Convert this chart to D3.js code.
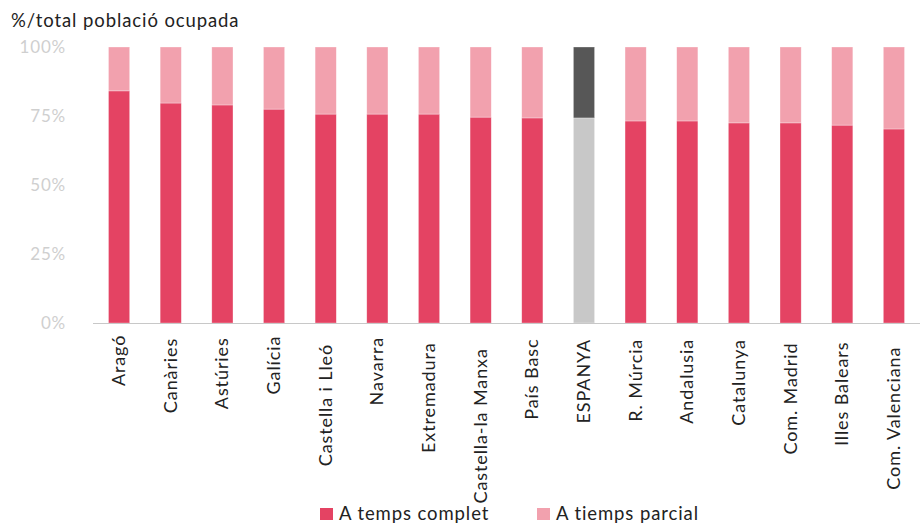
<!DOCTYPE html>
<html>
<head>
<meta charset="utf-8">
<script src="https://cdn.jsdelivr.net/npm/d3@7"></script>
<style>
  body { margin: 0; background: #fff; }
  svg { display: block; font-family: Lato, "Noto Sans", sans-serif; }
</style>
</head>
<body>
<svg id="chart" width="920" height="523"></svg>
<script>
// Regions, ordered as in the chart
const regions = ["Aragó", "Canàries", "Astúries", "Galícia", "Castella i Lleó", "Navarra",
  "Extremadura", "Castella-la Manxa", "País Basc", "ESPANYA", "R. Múrcia", "Andalusia",
  "Catalunya", "Com. Madrid", "Illes Balears", "Com. Valenciana"];
// Full-time share of employed population (%)
const fullTime = [84.1, 79.7, 79.0, 77.5, 75.7, 75.7, 75.7, 74.6, 74.3, 74.3, 73.2, 73.2, 72.5, 72.5, 71.7, 70.3];
const partTime = fullTime.map(v => 100 - v);
const yTicks = [0, 25, 50, 75, 100];
const seriesNames = ["A temps complet", "A tiemps parcial"];
const highlight = "ESPANYA";

const svg = d3.select("#chart");
const margin = { top: 47, right: 0, bottom: 200, left: 93 };
const width = 920, height = 523;

const x = d3.scaleBand()
  .domain(regions)
  .range([margin.left, width - margin.right])
  .paddingInner(0.59)
  .paddingOuter(0.3);

const y = d3.scaleLinear()
  .domain([0, 100])
  .range([height - margin.bottom, margin.top]);

// Title
svg.append("text")
  .attr("x", 11).attr("y", 27)
  .attr("font-size", 18.5)
  .attr("letter-spacing", 0.9)
  .attr("fill", "#222")
  .text("%/total població ocupada");

// y tick labels
svg.append("g")
  .selectAll("text")
  .data(yTicks)
  .join("text")
  .attr("x", 66).attr("y", d => y(d))
  .attr("dy", "0.36em")
  .attr("text-anchor", "end")
  .attr("font-size", 17)
  .attr("letter-spacing", 0.8)
  .attr("fill", "#cfcfcf")
  .text(d => d + "%");

const data = regions.map((r, i) => ({ region: r, full: fullTime[i], part: partTime[i] }));
const colors = {
  full: "#e44363", part: "#f2a1ae",
  fullHi: "#c8c8c8", partHi: "#575757"
};

const bars = svg.append("g");
bars.selectAll("rect.full")
  .data(data)
  .join("rect")
  .attr("class", "full")
  .attr("x", d => x(d.region))
  .attr("width", x.bandwidth())
  .attr("y", d => y(d.full))
  .attr("height", d => y(0) - y(d.full))
  .attr("fill", d => d.region === highlight ? colors.fullHi : colors.full);

bars.selectAll("rect.part")
  .data(data)
  .join("rect")
  .attr("class", "part")
  .attr("x", d => x(d.region))
  .attr("width", x.bandwidth())
  .attr("y", d => y(100))
  .attr("height", d => y(d.full) - y(100))
  .attr("fill", d => d.region === highlight ? colors.partHi : colors.part);

// thin light separators as in the original
bars.selectAll("rect")
  .attr("stroke", "#fff")
  .attr("stroke-opacity", 0.5)
  .attr("stroke-width", 0.6);

// x axis baseline
svg.append("line")
  .attr("x1", margin.left).attr("x2", width)
  .attr("y1", y(0) + 0.5).attr("y2", y(0) + 0.5)
  .attr("stroke", "#c8c8c8").attr("stroke-width", 1);

// rotated category labels (longer labels sit a little lower, like the original)
const labels = svg.append("g")
  .selectAll("text")
  .data(regions)
  .join("text")
  .attr("text-anchor", "end")
  .attr("font-size", 18)
  .attr("letter-spacing", 0.9)
  .attr("fill", "#222")
  .text(d => d);
labels.attr("transform", function(d) {
  const len = this.getComputedTextLength();
  return `translate(${x(d) + x.bandwidth() / 2 + 6},${y(0) + 5 + 0.13 * len}) rotate(-90)`;
});

// Legend
const legendX = [320, 537];
const legend = svg.append("g")
  .selectAll("g")
  .data(seriesNames)
  .join("g")
  .attr("transform", (d, i) => `translate(${legendX[i]},508)`);
legend.append("rect")
  .attr("width", 13).attr("height", 12)
  .attr("fill", (d, i) => i === 0 ? colors.full : colors.part);
legend.append("text")
  .attr("x", 19).attr("y", 12)
  .attr("font-size", 18.5)
  .attr("letter-spacing", 0.9)
  .attr("fill", "#222")
  .text(d => d);
</script>
</body>
</html>
